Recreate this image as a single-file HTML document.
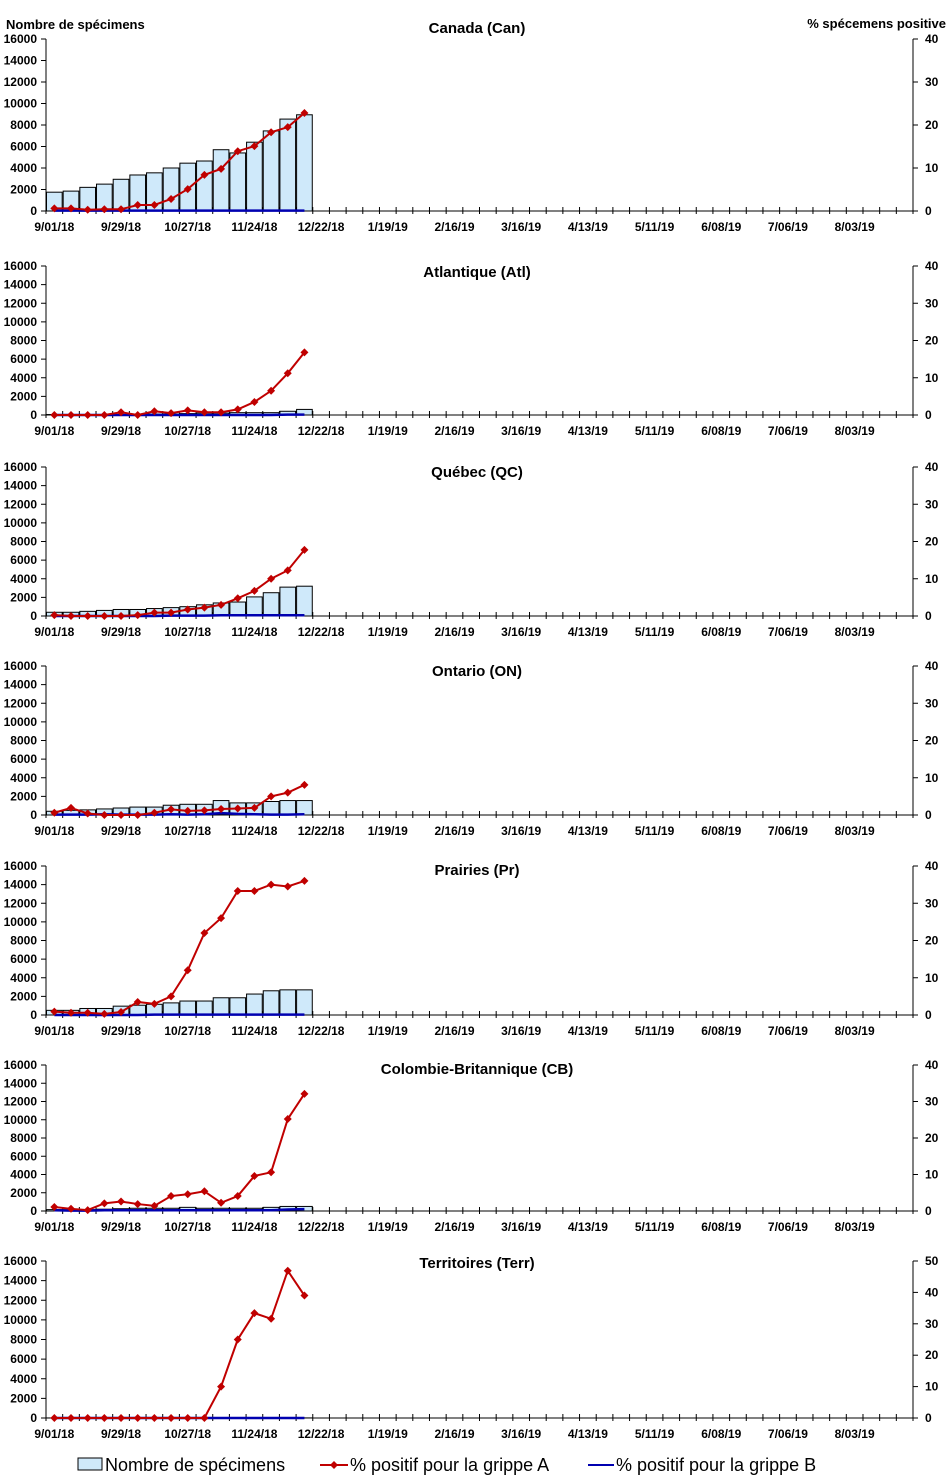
<!DOCTYPE html>
<html><head><meta charset="utf-8"><style>
body{margin:0;background:#fff;}
svg{display:block;font-family:"Liberation Sans",sans-serif;}
</style></head><body>
<svg id="c" width="952" height="1479"></svg>
<script>
const weekLabels=["9/01/18","9/29/18","10/27/18","11/24/18","12/22/18","1/19/19","2/16/19","3/16/19","4/13/19","5/11/19","6/08/19","7/06/19","8/03/19"];
const leftTicks=[0,2000,4000,6000,8000,10000,12000,14000,16000];
const titles=["Canada (Can)","Atlantique (Atl)","Québec (QC)","Ontario (ON)","Prairies (Pr)","Colombie-Britannique (CB)","Territoires (Terr)"];
const rightMax=[40,40,40,40,40,40,50];
const specCan=[1750,1850,2200,2500,2950,3350,3550,4000,4450,4650,5700,5400,6400,7450,8550,8950];
const fluACan=[0.6,0.6,0.3,0.4,0.4,1.4,1.4,2.8,5.1,8.4,9.8,13.9,15.1,18.3,19.5,22.8];
const fluBCan=[0.1,0.1,0.1,0.1,0.1,0.1,0.1,0.1,0.1,0.1,0.1,0.1,0.1,0.1,0.1,0.1];
const specAtl=[50,50,50,50,50,50,100,100,150,200,200,250,250,250,400,600];
const fluAAtl=[0,0,0,0,0.75,0,1,0.5,1.25,0.75,0.75,1.5,3.5,6.5,11.2,16.8];
const fluBAtl=[0,0,0,0,0,0,0,0,0,0,0,0,0,0,0.1,0.1];
const specQC=[400,400,500,600,700,700,800,900,1000,1200,1400,1500,2050,2500,3100,3200];
const fluAQC=[0.25,0,0,0,0,0.25,0.9,0.9,1.75,2.25,3,4.75,6.75,10,12.25,17.75];
const fluBQC=[0,0,0,0,0,0,0,0.1,0.1,0.1,0.2,0.2,0.2,0.2,0.2,0.2];
const specON=[400,500,550,650,750,850,850,1050,1150,1150,1550,1300,1300,1450,1550,1550];
const fluAON=[0.6,1.9,0.4,0,0,0,0.6,1.5,1.1,1.25,1.6,1.75,1.9,5,6,8.1];
const fluBON=[0.1,0.1,0.1,0.2,0.1,0.1,0.1,0.2,0.1,0.2,0.5,0.3,0.2,0.1,0.1,0.2];
const specPr=[500,500,700,700,950,1050,1150,1300,1500,1500,1850,1850,2250,2600,2700,2700];
const fluAPr=[0.9,0.6,0.6,0.3,0.8,3.5,3,5,12,22,26,33.3,33.3,35,34.5,36];
const fluBPr=[0,0,0,0,0,0,0.1,0.1,0.1,0.1,0.1,0.1,0.1,0.1,0.1,0.1];
const specCB=[150,150,150,200,250,300,300,300,400,300,300,300,300,400,500,500];
const fluACB=[1.1,0.6,0.25,2.1,2.6,1.9,1.4,4.1,4.6,5.4,2.25,4.1,9.6,10.6,25.2,32.1];
const fluBCB=[0.2,0.1,0.1,0.2,0.2,0.2,0.2,0.2,0.2,0.2,0.2,0.2,0.2,0.2,0.4,0.5];
const specTerr=[5,5,5,5,5,5,5,5,5,5,10,10,10,10,10,10];
const fluATerr=[0,0,0,0,0,0,0,0,0,0,10,25,33.4,31.6,46.9,39];
const fluBTerr=[0,0,0,0,0,0,0,0,0,0,0,0,0,0,0,0];
const specAll=[specCan,specAtl,specQC,specON,specPr,specCB,specTerr];
const fluAAll=[fluACan,fluAAtl,fluAQC,fluAON,fluAPr,fluACB,fluATerr];
const fluBAll=[fluBCan,fluBAtl,fluBQC,fluBON,fluBPr,fluBCB,fluBTerr];

const panels=[[39,211],[266,415],[467,616],[666,815],[866,1015],[1065,1211],[1261,1418]];
const titleY=[33,277,477,676,875,1074,1268];
const L=46,R=913,N=52,NS="http://www.w3.org/2000/svg";
const svg=document.getElementById('c');
function mk(t,a,p){const e=document.createElementNS(NS,t);for(const k in a)e.setAttribute(k,a[k]);(p||svg).appendChild(e);return e;}
const bw=(R-L)/N;
panels.forEach((pp,pi)=>{
  const [T,B]=pp;
  const g=mk('g',{});
  
  
  const xC=i=>L+bw*(i+0.5);
  const yL=v=>B-(v/16000)*(B-T);
  const yR=v=>B-(v/rightMax[pi])*(B-T);
  specAll[pi].forEach((v,i)=>{
    const r=mk('rect',{x:L+bw*i+0.5,y:yL(v),width:bw-1,height:B-yL(v),fill:'#cfe9fa',stroke:'#000','stroke-width':1},g);
    
  });
  mk('line',{x1:L,y1:T,x2:L,y2:B,stroke:'#000'},g);
  mk('line',{x1:R,y1:T,x2:R,y2:B,stroke:'#000'},g);
  mk('line',{x1:L,y1:B,x2:R,y2:B,stroke:'#000'},g);
  leftTicks.forEach(v=>{
    const y=yL(v);mk('line',{x1:L-5,y1:y,x2:L,y2:y,stroke:'#000'},g);
    const t=mk('text',{x:L-9,y:y+4,'text-anchor':'end','font-size':12,'font-weight':'bold'},g);t.textContent=v;
    
  });
  for(let v=0;v<=rightMax[pi];v+=10){
    const y=yR(v);mk('line',{x1:R,y1:y,x2:R+5,y2:y,stroke:'#000'},g);
    const t=mk('text',{x:R+12,y:y+4,'font-size':12,'font-weight':'bold'},g);t.textContent=v;
    
  }
  for(let i=0;i<=N;i++){const x=L+bw*i;mk('line',{x1:x,y1:B-4,x2:x,y2:B+3,stroke:'#000'},g);}
  weekLabels.forEach((s,k)=>{
    const t=mk('text',{x:xC(k*4),y:B+20,'text-anchor':'middle','font-size':12,'font-weight':'bold'},g);t.textContent=s;
    
  });
  const pb=mk('polyline',{points:fluBAll[pi].map((v,i)=>xC(i)+','+yR(v)).join(' '),fill:'none',stroke:'#0000b0','stroke-width':2.5},g);
  
  const pa=mk('polyline',{points:fluAAll[pi].map((v,i)=>xC(i)+','+yR(v)).join(' '),fill:'none',stroke:'#c00000','stroke-width':2},g);
  
  fluAAll[pi].forEach((v,i)=>{
    const x=xC(i),y=yR(v);
    const m=mk('polygon',{points:`${x},${y-4} ${x+4},${y} ${x},${y+4} ${x-4},${y}`,fill:'#c00000'},g);
    
  });
  const tt=mk('text',{x:477,y:titleY[pi],'text-anchor':'middle','font-size':15,'font-weight':'bold'},g);tt.textContent=titles[pi];
  
});
</script>
<svg style="position:absolute;left:0;top:0" width="952" height="1479">
<text x="6" y="29" font-size="13" font-weight="bold" font-family="Liberation Sans,sans-serif">Nombre de spécimens</text>
<text x="946" y="28" text-anchor="end" font-size="13" font-weight="bold" font-family="Liberation Sans,sans-serif">% spécemens positive</text>
<g font-family="Liberation Sans,sans-serif" font-size="18">
<rect x="78" y="1458" width="24" height="12" fill="#cfe9fa" stroke="#000"/>
<text x="105" y="1471">Nombre de spécimens</text>
<line x1="320" y1="1465" x2="348" y2="1465" stroke="#c00000" stroke-width="2"/>
<polygon points="334,1461 338,1465 334,1469 330,1465" fill="#c00000"/>
<text x="350" y="1471">% positif pour la grippe A</text>
<line x1="588" y1="1465" x2="614" y2="1465" stroke="#0000b0" stroke-width="2"/>
<text x="616" y="1471">% positif pour la grippe B</text>
</g>
</svg>
</body></html>
